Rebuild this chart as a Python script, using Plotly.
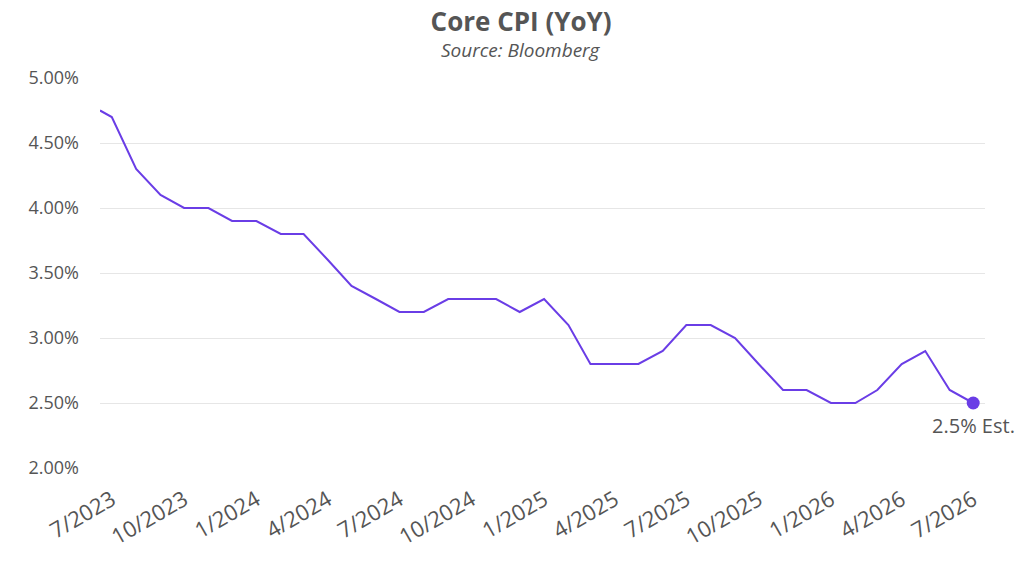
import plotly.graph_objects as go
import pandas as pd

# Core CPI year-over-year, monthly, last point is an estimate
dates = ['2023-06-16'] + [d.strftime('%Y-%m-%d') for d in pd.date_range('2023-07-01', '2026-07-01', freq='MS')]
cpi = [4.75, 4.70, 4.30, 4.10, 4.00, 4.00, 3.90,
       3.90, 3.80, 3.80, 3.60, 3.40, 3.30, 3.20, 3.20, 3.30, 3.30, 3.30, 3.20,
       3.30, 3.10, 2.80, 2.80, 2.80, 2.90, 3.10, 3.10, 3.00, 2.80, 2.60, 2.60,
       2.50, 2.50, 2.60, 2.80, 2.90, 2.60, 2.50]
tick_dates = [d.strftime('%Y-%m-%d') for d in pd.date_range('2023-07-01', '2026-07-01', freq='3MS')]
tick_labels = [f"{d.month}/{d.year}" for d in pd.date_range('2023-07-01', '2026-07-01', freq='3MS')]
y_ticks = [2.0, 2.5, 3.0, 3.5, 4.0, 4.5, 5.0]

purple = '#6a3de6'
grey = '#555555'
font = 'Open Sans'

fig = go.Figure()
fig.add_trace(go.Scatter(x=dates, y=cpi, mode='lines',
                         line=dict(color=purple, width=2), hoverinfo='skip'))
# estimate marker on the last point
fig.add_trace(go.Scatter(x=[dates[-1]], y=[cpi[-1]], mode='markers',
                         marker=dict(color=purple, size=13), hoverinfo='skip'))

fig.add_annotation(x=dates[-1], y=cpi[-1], text=f"{cpi[-1]:.1f}% Est.",
                   showarrow=False, yanchor='top', xanchor='center', yshift=-7,
                   font=dict(family=font, size=20, color=grey))

# source line under the title
fig.add_annotation(xref='paper', yref='paper', x=0.476, y=1.072, text="<i>Source: Bloomberg</i>",
                   showarrow=False, xanchor='center', yanchor='middle',
                   font=dict(family=font, size=19, color=grey))

fig.update_layout(
    width=1008, height=549,
    paper_bgcolor='white', plot_bgcolor='white',
    showlegend=False,
    margin=dict(l=92, r=31, t=70, b=89),
    title=dict(text="<b>Core CPI (YoY)</b>", x=0.509, xanchor='center',
               y=0.9745, yanchor='middle', font=dict(family=font, size=26, color=grey)),
    font=dict(family=font, color=grey),
)
fig.update_xaxes(range=['2023-06-16', '2026-07-16'], tickvals=tick_dates, ticktext=tick_labels,
                 tickangle=-30, tickfont=dict(size=22, color=grey), showgrid=False,
                 showline=False, zeroline=False, ticks='', ticklabelstandoff=14, automargin=False)
fig.update_yaxes(range=[2.0, 5.0], tickvals=y_ticks, ticktext=[f"{v:.2f}%" for v in y_ticks],
                 tickfont=dict(size=18, color=grey), gridcolor='#e6e6e6', gridwidth=1,
                 zeroline=False, showline=False, ticks='', ticklabelstandoff=20)

fig.write_html("out.html")
